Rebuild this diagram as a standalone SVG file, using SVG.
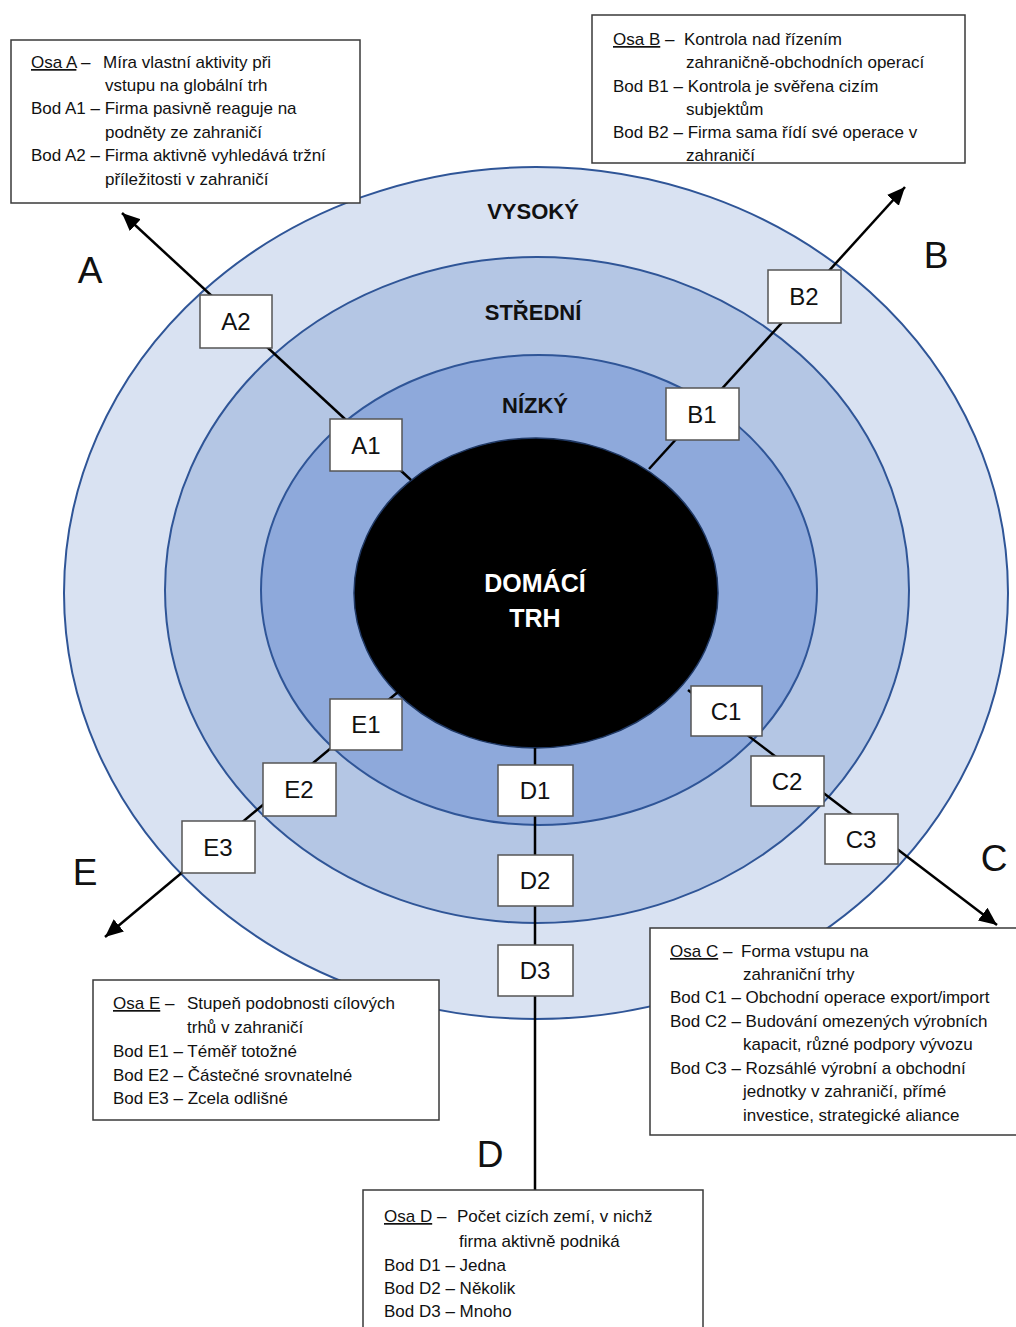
<svg xmlns="http://www.w3.org/2000/svg" width="1016" height="1327" viewBox="0 0 1016 1327">
<style>
.t{font-family:"Liberation Sans",Arial,sans-serif;font-size:17px;fill:#111}
.ring{stroke:#2F5597;stroke-width:2}
.lvl{font-family:"Liberation Sans",Arial,sans-serif;font-size:22px;font-weight:bold;fill:#111;text-anchor:middle}
.dom{font-family:"Liberation Sans",Arial,sans-serif;font-size:25px;font-weight:bold;fill:#fff;text-anchor:middle}
.ax{font-family:"Liberation Sans",Arial,sans-serif;font-size:37px;fill:#111;text-anchor:middle}
.bx{fill:#fff;stroke:#555;stroke-width:1.5}
.lb{font-family:"Liberation Sans",Arial,sans-serif;font-size:24px;fill:#111;text-anchor:middle}
.tb{fill:#fff;stroke:#3a3a3a;stroke-width:1.5}
.cn{stroke:#000;stroke-width:2.5;fill:none}
.u{text-decoration:underline}
</style>
<defs>
<marker id="ah" markerUnits="userSpaceOnUse" markerWidth="20" markerHeight="16" refX="18" refY="8" orient="auto">
<path d="M0,0 L18,8 L0,16 z" fill="#000"/>
</marker>
</defs>
<rect width="1016" height="1327" fill="#fff"/>
<g id="rings">
<ellipse class="ring" cx="536" cy="593" rx="472" ry="426" fill="#D9E2F2"/>
<ellipse class="ring" cx="537" cy="590" rx="372" ry="333" fill="#B4C6E4"/>
<ellipse class="ring" cx="539" cy="590" rx="278" ry="235" fill="#8EA9DB"/>
<ellipse cx="536" cy="593" rx="182" ry="155" fill="#000" stroke="#1F3864" stroke-width="1.5"/>
<text class="lvl" x="533" y="219">VYSOKÝ</text>
<text class="lvl" x="533" y="320">STŘEDNÍ</text>
<text class="lvl" x="535" y="413">NÍZKÝ</text>
<text class="dom" x="535" y="592">DOMÁCÍ</text>
<text class="dom" x="535" y="627">TRH</text>
</g>
<g id="connectors">
<line class="cn" x1="411" y1="480" x2="122" y2="213" marker-end="url(#ah)"/>
<line class="cn" x1="649" y1="469" x2="905" y2="187" marker-end="url(#ah)"/>
<line class="cn" x1="688" y1="690" x2="997" y2="925" marker-end="url(#ah)"/>
<line class="cn" x1="535" y1="748" x2="535" y2="1190"/>
<line class="cn" x1="398" y1="692" x2="105" y2="937" marker-end="url(#ah)"/>
</g>
<g id="axis-labels">
<text class="ax" x="90" y="283">A</text>
<text class="ax" x="936" y="268">B</text>
<text class="ax" x="994" y="871">C</text>
<text class="ax" x="490" y="1167">D</text>
<text class="ax" x="85" y="885">E</text>
</g>
<g id="A2"><rect class="bx" x="200" y="295" width="72" height="53"/><text class="lb" x="236" y="330">A2</text></g>
<g id="A1"><rect class="bx" x="330" y="419" width="72" height="52"/><text class="lb" x="366" y="454">A1</text></g>
<g id="B2"><rect class="bx" x="768" y="270" width="73" height="53"/><text class="lb" x="804" y="305">B2</text></g>
<g id="B1"><rect class="bx" x="666" y="388" width="73" height="52"/><text class="lb" x="702" y="423">B1</text></g>
<g id="C1"><rect class="bx" x="691" y="686" width="71" height="50"/><text class="lb" x="726" y="720">C1</text></g>
<g id="C2"><rect class="bx" x="751" y="756" width="73" height="50"/><text class="lb" x="787" y="790">C2</text></g>
<g id="C3"><rect class="bx" x="825" y="814" width="73" height="50"/><text class="lb" x="861" y="848">C3</text></g>
<g id="D1"><rect class="bx" x="498" y="765" width="75" height="51"/><text class="lb" x="535" y="799">D1</text></g>
<g id="D2"><rect class="bx" x="498" y="855" width="75" height="51"/><text class="lb" x="535" y="889">D2</text></g>
<g id="D3"><rect class="bx" x="498" y="945" width="75" height="51"/><text class="lb" x="535" y="979">D3</text></g>
<g id="E1"><rect class="bx" x="330" y="699" width="72" height="51"/><text class="lb" x="366" y="733">E1</text></g>
<g id="E2"><rect class="bx" x="263" y="763" width="73" height="53"/><text class="lb" x="299" y="798">E2</text></g>
<g id="E3"><rect class="bx" x="182" y="821" width="73" height="52"/><text class="lb" x="218" y="856">E3</text></g>
<g id="box-A">
<rect class="tb" x="11" y="40" width="349" height="163"/>
<text class="t" x="31" y="68"><tspan class="u">Osa A</tspan> –<tspan x="103">Míra vlastní aktivity při</tspan></text>
<text class="t" x="105" y="91">vstupu na globální trh</text>
<text class="t" x="31" y="114">Bod A1 – Firma pasivně reaguje na</text>
<text class="t" x="105" y="138">podněty ze zahraničí</text>
<text class="t" x="31" y="161">Bod A2 – Firma aktivně vyhledává tržní</text>
<text class="t" x="105" y="185">příležitosti v zahraničí</text>
</g>
<g id="box-B">
<rect class="tb" x="592" y="15" width="373" height="148"/>
<text class="t" x="613" y="45"><tspan class="u">Osa B</tspan> –<tspan x="684">Kontrola nad řízením</tspan></text>
<text class="t" x="686" y="68">zahraničně-obchodních operací</text>
<text class="t" x="613" y="92">Bod B1 – Kontrola je svěřena cizím</text>
<text class="t" x="686" y="115">subjektům</text>
<text class="t" x="613" y="138">Bod B2 – Firma sama řídí své operace v</text>
<text class="t" x="686" y="161">zahraničí</text>
</g>
<g id="box-E">
<rect class="tb" x="93" y="980" width="346" height="140"/>
<text class="t" x="113" y="1009"><tspan class="u">Osa E</tspan> –<tspan x="187">Stupeň podobnosti cílových</tspan></text>
<text class="t" x="187" y="1033">trhů v zahraničí</text>
<text class="t" x="113" y="1057">Bod E1 – Téměř totožné</text>
<text class="t" x="113" y="1081">Bod E2 – Částečné srovnatelné</text>
<text class="t" x="113" y="1104">Bod E3 – Zcela odlišné</text>
</g>
<g id="box-C">
<rect class="tb" x="650" y="928" width="380" height="207"/>
<text class="t" x="670" y="957"><tspan class="u">Osa C</tspan> –<tspan x="741">Forma vstupu na</tspan></text>
<text class="t" x="743" y="980">zahraniční trhy</text>
<text class="t" x="670" y="1003">Bod C1 – Obchodní operace export/import</text>
<text class="t" x="670" y="1027">Bod C2 – Budování omezených výrobních</text>
<text class="t" x="743" y="1050">kapacit, různé podpory vývozu</text>
<text class="t" x="670" y="1074">Bod C3 – Rozsáhlé výrobní a obchodní</text>
<text class="t" x="743" y="1097">jednotky v zahraničí, přímé</text>
<text class="t" x="743" y="1121">investice, strategické aliance</text>
</g>
<g id="box-D">
<rect class="tb" x="363" y="1190" width="340" height="150"/>
<text class="t" x="384" y="1222"><tspan class="u">Osa D</tspan> –<tspan x="457">Počet cizích zemí, v nichž</tspan></text>
<text class="t" x="459" y="1247">firma aktivně podniká</text>
<text class="t" x="384" y="1271">Bod D1 – Jedna</text>
<text class="t" x="384" y="1294">Bod D2 – Několik</text>
<text class="t" x="384" y="1317">Bod D3 – Mnoho</text>
</g>
</svg>
